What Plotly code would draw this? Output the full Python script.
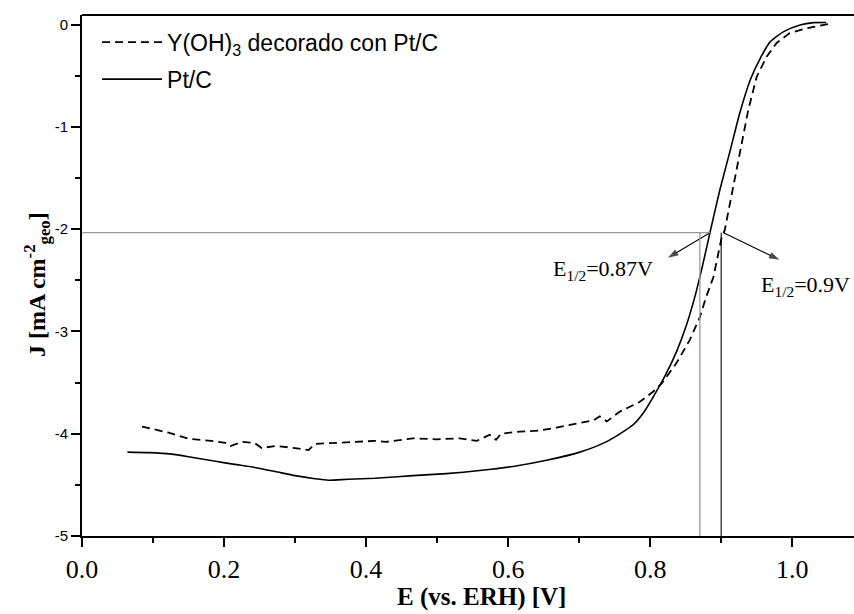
import numpy as np
import plotly.graph_objects as go

# Pt/C polarization curve
pt_E = [0.064, 0.094, 0.126, 0.154, 0.188, 0.215, 0.243, 0.272, 0.300, 0.328, 0.347,
        0.375, 0.412, 0.466, 0.513, 0.560, 0.607, 0.654, 0.701, 0.738, 0.760, 0.778,
        0.792, 0.806, 0.822, 0.837, 0.851, 0.863, 0.874, 0.884, 0.898, 0.912, 0.926,
        0.941, 0.955, 0.969, 0.988, 1.011, 1.030, 1.048]
pt_J = [-4.18, -4.185, -4.20, -4.23, -4.27, -4.30, -4.33, -4.37, -4.41, -4.44, -4.455,
        -4.445, -4.435, -4.41, -4.39, -4.36, -4.32, -4.26, -4.18, -4.08, -3.99, -3.90,
        -3.78, -3.62, -3.42, -3.20, -2.94, -2.66, -2.35, -2.04, -1.62, -1.25, -0.87,
        -0.54, -0.33, -0.17, -0.07, -0.005, 0.018, 0.02]

# Y(OH)3 decorated Pt/C polarization curve
y_E = [0.0845, 0.122, 0.150, 0.182, 0.202, 0.209, 0.225, 0.243, 0.253, 0.272, 0.300,
       0.319, 0.328, 0.356, 0.375, 0.413, 0.428, 0.466, 0.499, 0.532, 0.556, 0.574,
       0.583, 0.590, 0.616, 0.644, 0.668, 0.701, 0.720, 0.729, 0.739, 0.757, 0.785,
       0.804, 0.816, 0.837, 0.856, 0.870, 0.879, 0.889, 0.896, 0.901, 0.905, 0.917,
       0.926, 0.938, 0.950, 0.964, 0.978, 0.996, 1.020, 1.039, 1.051]
y_J = [-3.93, -3.99, -4.05, -4.07, -4.09, -4.12, -4.08, -4.09, -4.14, -4.12, -4.14,
       -4.16, -4.10, -4.09, -4.08, -4.07, -4.08, -4.045, -4.055, -4.045, -4.07, -4.01,
       -4.06, -4.00, -3.98, -3.97, -3.94, -3.90, -3.87, -3.83, -3.88, -3.785, -3.69,
       -3.59, -3.51, -3.31, -3.08, -2.86, -2.66, -2.47, -2.24, -2.07, -2.01, -1.585,
       -1.23, -0.84, -0.51, -0.315, -0.18, -0.086, -0.037, -0.015, 0.005]

series_names = ["Y(OH)<sub>3</sub> decorado con Pt/C", "Pt/C"]

# half-wave potentials and the current level used to read them
E_half = [0.87, 0.90]
J_half = -2.035

y_ticks = [0, -1, -2, -3, -4, -5]
y_ticktext = ["0", "-1", "-2", "-3", "-4", "-5"]
x_ticks = [0.0, 0.2, 0.4, 0.6, 0.8, 1.0]
x_ticktext = ["0.0", "0.2", "0.4", "0.6", "0.8", "1.0"]

serif = "Liberation Serif, Times New Roman, serif"
sans = "Liberation Sans, Arial, sans-serif"


def crossing(E, J, level):
    """Potential where the rising branch of a curve reaches the given current."""
    E = np.asarray(E)
    J = np.asarray(J)
    rising = E > 0.8
    return float(np.interp(level, J[rising], E[rising]))


cross_pt = crossing(pt_E, pt_J, J_half)
cross_y = crossing(y_E, y_J, J_half)

fig = go.Figure()
fig.add_trace(go.Scatter(x=y_E, y=y_J, mode="lines", name=series_names[0],
                         legendgroup="a",
                         line=dict(color="black", width=1.8, dash="8px,5px")))
fig.add_trace(go.Scatter(x=pt_E, y=pt_J, mode="lines", name=series_names[1],
                         legendgroup="b",
                         line=dict(color="black", width=1.6, shape="spline", smoothing=0.6)))

# guide lines for E1/2
fig.add_shape(type="line", xref="x", yref="y", x0=0, x1=cross_pt, y0=J_half, y1=J_half,
              line=dict(color="#9a9a9a", width=1.3))
fig.add_shape(type="line", xref="x", yref="y", x0=E_half[0], x1=E_half[0], y0=-5, y1=J_half,
              line=dict(color="#9a9a9a", width=1.3))
fig.add_shape(type="line", xref="x", yref="y", x0=E_half[1], x1=E_half[1], y0=-5, y1=J_half,
              line=dict(color="black", width=1.1))

# top frame line
fig.add_shape(type="line", xref="paper", yref="paper", x0=0, x1=1, y0=1, y1=1,
              line=dict(color="black", width=1.8))

# arrows from the curve crossings towards the labels
arrow_tails = [(cross_pt, J_half), (cross_y, J_half)]
arrow_heads = [(0.825, -2.28), (0.982, -2.30)]
for (tx, ty), (hx, hy) in zip(arrow_tails, arrow_heads):
    fig.add_trace(go.Scatter(x=[tx, hx], y=[ty, hy], mode="lines+markers",
                             showlegend=False, hoverinfo="skip",
                             line=dict(color="black", width=1.1),
                             marker=dict(symbol="arrow", size=[0, 11], angleref="previous",
                                         color="black", line=dict(width=0))))

label_pos = [(0.734, -2.40), (1.019, -2.56)]
label_val = ["0.87", "0.9"]
for (lx, ly), val in zip(label_pos, label_val):
    fig.add_annotation(x=lx, y=ly, xref="x", yref="y", showarrow=False,
                       text=f"E<sub>1/2</sub>={val}V",
                       font=dict(family=serif, size=22, color="black"))

# axis titles
fig.add_annotation(x=0.5175, y=-0.117, xref="paper", yref="paper", showarrow=False,
                   text="<b>E (vs. ERH) [V]</b>", xanchor="center", yanchor="middle",
                   font=dict(family=serif, size=25, color="black"))
fig.add_annotation(x=-0.058, y=0.482, xref="paper", yref="paper", showarrow=False,
                   text="<b>J [mA cm<sup>-2</sup><sub>geo</sub>]</b>", textangle=-90,
                   xanchor="center", yanchor="middle",
                   font=dict(family=serif, size=24, color="black"))

fig.update_layout(
    width=854, height=614,
    margin=dict(l=82, r=0, t=15, b=78),
    paper_bgcolor="white", plot_bgcolor="white",
    showlegend=True,
    legend=dict(x=0.0195, y=0.989, xanchor="left", yanchor="top",
                bgcolor="rgba(0,0,0,0)", font=dict(family=sans, size=23, color="black"),
                tracegroupgap=4, itemwidth=60),
    xaxis=dict(range=[0, 1.087], showgrid=False, zeroline=False,
               showline=True, linecolor="black", linewidth=1.8, mirror=False,
               tickmode="array", tickvals=x_ticks, ticktext=x_ticktext,
               ticks="outside", ticklen=9, tickwidth=1.5, tickcolor="black",
               tickfont=dict(family=serif, size=26, color="black"),
               minor=dict(ticks="outside", ticklen=5, tickwidth=1.5, tickcolor="black",
                          dtick=0.1, tick0=0, showgrid=False)),
    yaxis=dict(range=[-5, 0.093], showgrid=False, zeroline=False,
               showline=True, linecolor="black", linewidth=1.8, mirror=False,
               tickmode="array", tickvals=y_ticks, ticktext=y_ticktext,
               ticks="outside", ticklen=9, tickwidth=1.5, tickcolor="black",
               tickfont=dict(family=sans, size=15, color="black"),
               minor=dict(ticks="outside", ticklen=5, tickwidth=1.5, tickcolor="black",
                          dtick=0.5, tick0=0, showgrid=False)),
)

fig.write_html("out.html")
